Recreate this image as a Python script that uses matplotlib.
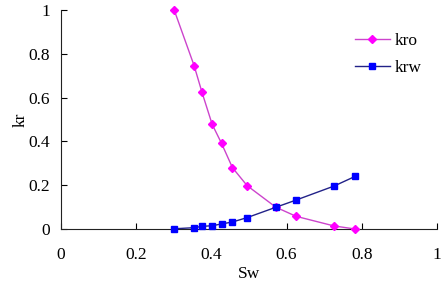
import matplotlib
matplotlib.use("Agg")
import matplotlib.pyplot as plt

sw = [0.301, 0.354, 0.375, 0.402, 0.427, 0.456, 0.495, 0.571, 0.625, 0.726, 0.782]
kro = [1.0, 0.746, 0.624, 0.478, 0.391, 0.280, 0.198, 0.100, 0.058, 0.014, 0.0]
krw = [0.001, 0.006, 0.012, 0.015, 0.023, 0.032, 0.052, 0.099, 0.132, 0.196, 0.240]
xticks = [0, 0.2, 0.4, 0.6, 0.8, 1]
xticklabels = ["0", "0.2", "0.4", "0.6", "0.8", "1"]
yticks = [0, 0.2, 0.4, 0.6, 0.8, 1]
yticklabels = ["0", "0.2", "0.4", "0.6", "0.8", "1"]

plt.rcParams['font.family'] = ['Liberation Serif', 'DejaVu Serif']
fig = plt.figure(figsize=(4.44, 2.97), dpi=100)
ax = fig.add_axes([61/444, 1-229/297, 376/444, 219/297])

ax.plot(sw, kro, color='#cc44cc', lw=1.0, marker='D', markersize=4.5,
        markerfacecolor='#ff00ff', markeredgecolor='#ff00ff', label='kro', clip_on=False, zorder=3)
ax.plot(sw, krw, color='#222288', lw=1.0, marker='s', markersize=5,
        markerfacecolor='#0000ff', markeredgecolor='#0000ff', label='krw', clip_on=False, zorder=3)

ax.set_xlim(0, 1)
ax.set_ylim(0, 1)
ax.set_xticks(xticks)
ax.set_xticklabels(xticklabels)
ax.set_yticks(yticks)
ax.set_yticklabels(yticklabels)
ax.tick_params(direction='in', length=4, labelsize=12.5, width=0.8)
ax.tick_params(axis='x', pad=13)
ax.tick_params(axis='y', pad=8)
for s in ['top', 'right']:
    ax.spines[s].set_visible(False)
for s in ['left', 'bottom']:
    ax.spines[s].set_color('#222222')
ax.set_xlabel('Sw', fontsize=12.5, labelpad=2)
ax.set_ylabel('kr', fontsize=12.5, labelpad=0)

leg = ax.legend(loc='upper left', bbox_to_anchor=(0.74, 0.965), frameon=False, fontsize=12.5,
                handlelength=2.0, labelspacing=0.6, handletextpad=0.3)

fig.savefig('out.png', dpi=100)
